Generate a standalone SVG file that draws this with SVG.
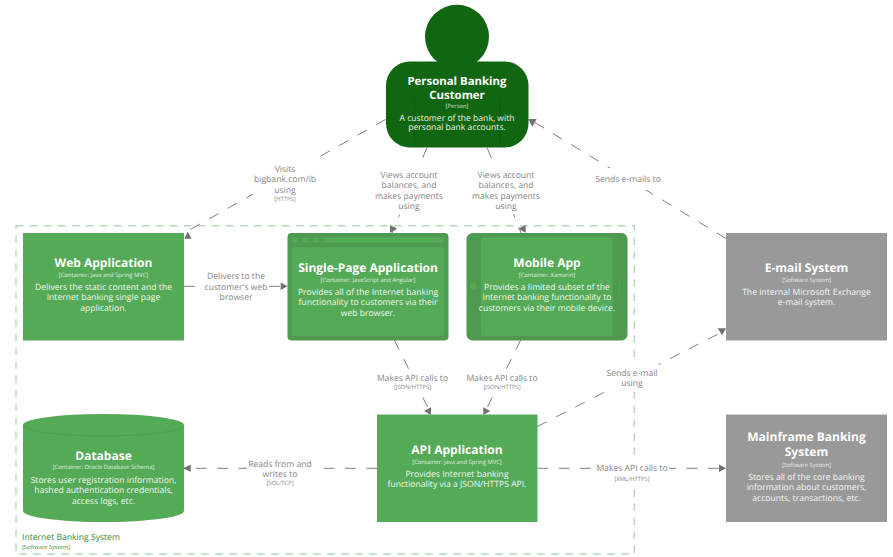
<svg xmlns="http://www.w3.org/2000/svg" width="893" height="557" viewBox="0 0 893 557">
<style>
text{font-family:"Open Sans","Noto Sans","DejaVu Sans",sans-serif;text-anchor:middle;text-rendering:geometricPrecision}
.n{font-size:12px;font-weight:700;fill:#fff}
.p{font-size:11.4px}
.m{font-size:5.85px;fill:#fff;opacity:.8}
.d{font-size:8.6px;fill:#fff;opacity:.92}
.l{font-size:8.6px;fill:#707070;opacity:.85}
.t{font-size:5.85px;fill:#707070;opacity:.85}
.c{stroke:#707070;stroke-width:.9;fill:none;stroke-dasharray:10.7 10.6}
.h{fill:#707070}
.b{fill:#fff}
.g{fill:#55aa57}.g2{fill:#4d9a50}.s{fill:#999}
</style>
<rect x="16" y="225.700" width="618.300" height="328.300" fill="none" stroke="#b5dbb8" stroke-width="1.400" stroke-dasharray="7.500 6.500"/>
<rect class="b" x="17" y="530" width="100" height="22"/>
<text x="22" y="540" style="text-anchor:start;font-size:8.600px;fill:#2f8a38">Internet Banking System</text>
<text x="22" y="548.500" style="text-anchor:start;font-size:5.700px;fill:#2f8a38">[Software System]</text>
<g id="connectors">
<path class="c" d="M385.500 119.500L184 233"/>
<path class="c" d="M426.700 148L392 233"/>
<path class="c" d="M487.300 148L521 233"/>
<path class="c" d="M726 238.500L529 119"/>
<path class="c" d="M184 286.300L287 286.300"/>
<path class="c" d="M394.300 340L431 414"/>
<path class="c" d="M520.700 340L484 414"/>
<path class="c" d="M537.300 426.500L726 330"/>
<path class="c" d="M537.500 468.300L726 468.300"/>
<path class="c" d="M377 468.300L184 468.300"/>
<g id="arrowheads">
<path class="h" d="M187.700 231.700L191.700 238.700H184.300Z"/>
<path class="h" d="M390 225V232.700L397.300 228.700Z"/>
<path class="h" d="M525.700 225V232.700L518.300 228.700Z"/>
<path class="h" d="M431 407.300V415L424 411Z"/>
<path class="h" d="M483.300 407.300V415L490.300 411Z"/>
<path class="h" d="M528.300 119H536.700L532.300 126.700Z"/>
<path class="h" d="M717.700 328.300H726L722 335.300Z"/>
<path class="h" d="M280.700 282.500V290L287.500 286.300Z"/>
<path class="h" d="M719 464.500V472L726 468.300Z"/>
<path class="h" d="M190.700 464.500V472L183.500 468.300Z"/>
</g>
</g>
<g id="person"><rect x="386" y="61.500" width="142.500" height="86" rx="24" fill="#116611"/><circle cx="457" cy="36.700" r="32" fill="#116611"/><path d="M414.500 100V147M500 100V147" stroke="#0d560d" stroke-width=".6"/>
<text class="n p" x="457" y="85">Personal Banking</text><text class="n p" x="457" y="98.500">Customer</text><text class="m" x="457" y="108">[Person]</text><text class="d" x="457" y="121">A customer of the bank, with</text><text class="d" x="457" y="130">personal bank accounts.</text></g>
<g id="web"><rect class="g" x="23" y="233" width="161" height="107.500"/><text class="n" x="103.500" y="267">Web Application</text><text class="m" x="103.500" y="277">[Container: Java and Spring MVC]</text><text class="d" x="103.500" y="290">Delivers the static content and the</text><text class="d" x="103.500" y="300">Internet banking single page</text><text class="d" x="103.500" y="311">application.</text></g>
<g id="spa"><rect class="g2" x="287.500" y="233" width="161" height="107.500" rx="4"/><rect class="g" x="291.700" y="247.300" width="152.300" height="88.700" rx="3"/><circle class="g" cx="295" cy="240" r="3"/><circle class="g" cx="305.300" cy="240" r="3"/><circle class="g" cx="316" cy="240" r="3"/><rect class="g" x="323.300" y="237" width="120.700" height="6" rx="3"/>
<text class="n" x="368" y="272">Single-Page Application</text><text class="m" x="368" y="282">[Container: JavaScript and Angular]</text><text class="d" x="368" y="295">Provides all of the Internet banking</text><text class="d" x="368" y="305">functionality to customers via their</text><text class="d" x="368" y="316">web browser.</text></g>
<g id="mobile"><rect class="g2" x="466.500" y="233" width="161" height="107.500" rx="6"/><rect class="g" x="481" y="237.300" width="131.700" height="98.700" rx="2"/><circle class="g" cx="473.300" cy="286.300" r="3.300"/><rect class="g" x="618.700" y="278.300" width="1.200" height="16"/>
<text class="n" x="547" y="267">Mobile App</text><text class="m" x="547" y="277">[Container: Xamarin]</text><text class="d" x="547" y="290">Provides a limited subset of the</text><text class="d" x="547" y="300">Internet banking functionality to</text><text class="d" x="547" y="311">customers via their mobile device.</text></g>
<g id="database"><path class="g" d="M23 425A80.500 11 0 0 1 184 425V511A80.500 11 0 0 1 23 511Z"/><path d="M23 425A80.500 11 0 0 0 184 425" fill="none" stroke="#4d9a50" stroke-width=".7"/>
<text class="n" x="103.500" y="460">Database</text><text class="m" x="103.500" y="469">[Container: Oracle Database Schema]</text><text class="d" x="103.500" y="483">Stores user registration information,</text><text class="d" x="103.500" y="493">hashed authentication credentials,</text><text class="d" x="103.500" y="504">access logs, etc.</text></g>
<g id="api"><rect class="g" x="377" y="414.500" width="160.500" height="107.500"/><text class="n" x="457" y="454">API Application</text><text class="m" x="457" y="464">[Container: Java and Spring MVC]</text><text class="d" x="457" y="477">Provides Internet banking</text><text class="d" x="457" y="487">functionality via a JSON/HTTPS API.</text></g>
<g id="email"><rect class="s" x="726" y="233" width="161" height="107.500"/><text class="n" x="806.500" y="272">E-mail System</text><text class="m" x="806.500" y="282">[Software System]</text><text class="d" x="806.500" y="295">The internal Microsoft Exchange</text><text class="d" x="806.500" y="305">e-mail system.</text></g>
<g id="mainframe"><rect class="s" x="726" y="414.500" width="161" height="107.500"/><text class="n" x="806.500" y="441">Mainframe Banking</text><text class="n" x="806.500" y="456">System</text><text class="m" x="806.500" y="467">[Software System]</text><text class="d" x="806.500" y="480">Stores all of the core banking</text><text class="d" x="806.500" y="490">information about customers,</text><text class="d" x="806.500" y="501">accounts, transactions, etc.</text></g>
<g id="labels">
<rect class="b" x="253" y="160" width="64" height="45"/><text class="l" x="285" y="172">Visits</text><text class="l" x="285" y="182">bigbank.com/ib</text><text class="l" x="285" y="193">using</text><text class="t" x="285" y="201">[HTTPS]</text>
<rect class="b" x="375" y="165" width="68" height="49.500"/><text class="l" x="409" y="178">Views account</text><text class="l" x="409" y="188">balances, and</text><text class="l" x="409" y="199">makes payments</text><text class="l" x="409" y="209">using</text>
<rect class="b" x="472" y="165" width="68" height="49.500"/><text class="l" x="506" y="178">Views account</text><text class="l" x="506" y="188">balances, and</text><text class="l" x="506" y="199">makes payments</text><text class="l" x="506" y="209">using</text>
<rect class="b" x="594" y="168" width="67" height="22"/><text class="l" x="628" y="182">Sends e-mails to</text>
<rect class="b" x="204" y="270" width="65" height="33"/><text class="l" x="236" y="279">Delivers to the</text><text class="l" x="236" y="290">customer's web</text><text class="l" x="236" y="300">browser</text>
<rect class="b" x="377" y="369" width="72" height="23"/><text class="l" x="412.500" y="381">Makes API calls to</text><text class="t" x="412.500" y="389">[JSON/HTTPS]</text>
<rect class="b" x="466" y="369" width="72" height="23"/><text class="l" x="502" y="381">Makes API calls to</text><text class="t" x="502" y="389">[JSON/HTTPS]</text>
<rect class="b" x="604" y="363" width="54.500" height="29"/><text class="l" x="632" y="376">Sends e-mail</text><text class="l" x="632" y="386">using</text>
<rect class="b" x="596" y="458" width="73" height="27"/><text class="l" x="632" y="471">Makes API calls to</text><text class="t" x="632" y="481">[XML/HTTPS]</text>
<rect class="b" x="247" y="456" width="66" height="32"/><text class="l" x="280" y="467">Reads from and</text><text class="l" x="280" y="477">writes to</text><text class="t" x="280" y="485">[SQL/TCP]</text>
</g>
</svg>
